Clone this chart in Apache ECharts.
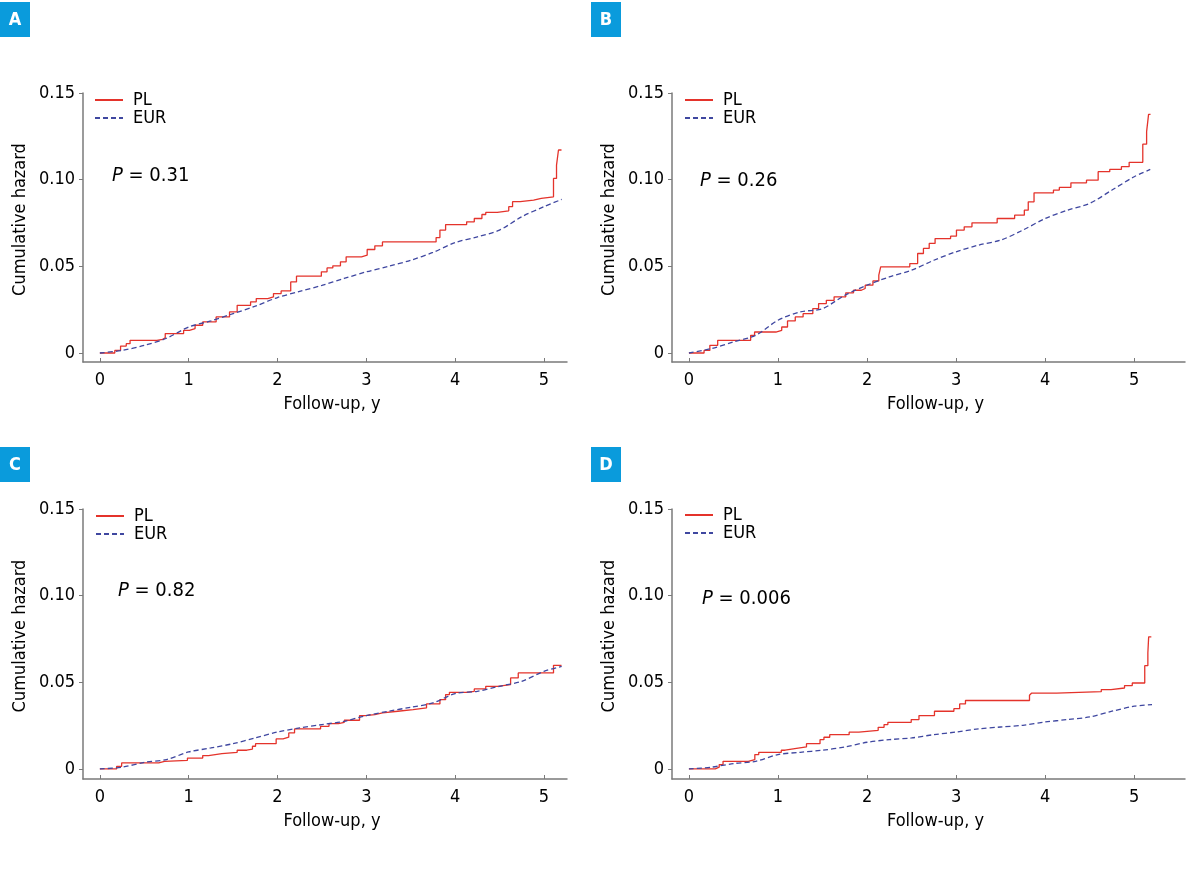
<!DOCTYPE html>
<html>
<head>
<meta charset="utf-8">
<script src="https://cdn.jsdelivr.net/npm/echarts@6/dist/echarts.min.js"></script>
<style>
  html, body { margin: 0; padding: 0; background: #fff; }
  #chart { width: 1198px; height: 890px; }
</style>
</head>
<body>
<div id="chart"></div>
<script>
// 刻度与标签
const xTicks = [0, 1, 2, 3, 4, 5];
const yTicks = [0, 0.05, 0.10, 0.15];
const panelLetters = ['A', 'B', 'C', 'D'];
const pValues = ['0.31', '0.26', '0.82', '0.006'];
const seriesNames = ['PL', 'EUR'];

// A: PL 阶梯数据 [时间, 累积风险]
const plA = [[0,0],[0.168,0.0015],[0.233,0.004],[0.297,0.0054],[0.340,0.0073],[0.642,0.0079],[0.706,0.0087],[0.736,0.0112],[0.943,0.0131],[1.008,0.0141],[1.072,0.016],[1.158,0.0179],[1.309,0.0208],[1.460,0.0237],[1.546,0.0275],[1.697,0.0295],[1.761,0.0314],[1.891,0.0324],[1.955,0.0343],[2.041,0.0358],[2.149,0.041],[2.214,0.0443],[2.494,0.0468],[2.558,0.0491],[2.623,0.0503],[2.709,0.0526],[2.773,0.0555],[2.946,0.0564],[3.010,0.0597],[3.096,0.0618],[3.182,0.0641],[3.786,0.0666],[3.829,0.0709],[3.893,0.0741],[4.130,0.0757],[4.216,0.0776],[4.302,0.0799],[4.345,0.0811],[4.475,0.082],[4.604,0.0844],[4.647,0.0873],[4.733,0.0882],[4.884,0.0892],[4.970,0.0901],[5.108,0.1007],[5.142,0.1084],[5.164,0.1171],[5.198,0.1171]];
const eurA = [[0,0],[0.25,0.0015],[0.5,0.0044],[0.75,0.0085],[1.0,0.015],[1.25,0.0185],[1.5,0.0227],[1.75,0.027],[2.0,0.032],[2.25,0.0355],[2.5,0.039],[2.75,0.043],[3.0,0.0468],[3.25,0.050],[3.5,0.0535],[3.75,0.058],[4.0,0.0637],[4.25,0.067],[4.5,0.0709],[4.75,0.0786],[5.0,0.0844],[5.2,0.0886]];

// B
const plB = [[0,0],[0.170,0.0015],[0.235,0.0044],[0.323,0.0073],[0.693,0.0102],[0.737,0.0121],[0.976,0.0131],[1.042,0.015],[1.107,0.0185],[1.194,0.0208],[1.282,0.0227],[1.391,0.0256],[1.456,0.0285],[1.543,0.0304],[1.630,0.0324],[1.761,0.0347],[1.848,0.0362],[1.936,0.0372],[1.979,0.0391],[2.066,0.0416],[2.132,0.0449],[2.153,0.0497],[2.480,0.0516],[2.568,0.0574],[2.633,0.0603],[2.698,0.0632],[2.764,0.066],[2.938,0.0674],[3.004,0.0709],[3.091,0.0728],[3.178,0.0751],[3.461,0.0776],[3.657,0.0795],[3.766,0.0824],[3.810,0.0872],[3.875,0.0924],[4.093,0.094],[4.159,0.0955],[4.289,0.0982],[4.464,0.0997],[4.595,0.1046],[4.725,0.1059],[4.856,0.1075],[4.943,0.11],[5.096,0.1205],[5.139,0.1277],[5.161,0.1377],[5.183,0.1377]];
const eurB = [[0,0],[0.25,0.0025],[0.5,0.0064],[0.75,0.0102],[1.0,0.0189],[1.25,0.0237],[1.5,0.0256],[1.75,0.0333],[2.0,0.0391],[2.25,0.0439],[2.5,0.0478],[2.75,0.0535],[3.0,0.0584],[3.25,0.0622],[3.5,0.0651],[3.75,0.0709],[4.0,0.0776],[4.25,0.0824],[4.5,0.0863],[4.75,0.094],[5.0,0.1017],[5.18,0.1059]];

// C
const plC = [[0,0],[0.189,0.0015],[0.245,0.0035],[0.663,0.0044],[0.728,0.005],[0.986,0.0063],[1.158,0.0077],[1.223,0.0088],[1.374,0.0096],[1.546,0.0108],[1.654,0.0115],[1.718,0.0131],[1.753,0.0146],[1.985,0.0173],[2.063,0.0183],[2.127,0.0208],[2.192,0.0231],[2.485,0.0246],[2.580,0.0262],[2.687,0.0269],[2.752,0.0281],[2.924,0.0308],[2.989,0.0313],[3.096,0.0323],[3.183,0.0333],[3.355,0.0342],[3.527,0.0352],[3.678,0.0375],[3.829,0.04],[3.893,0.0429],[3.936,0.0442],[4.130,0.0448],[4.216,0.0462],[4.345,0.0477],[4.475,0.0487],[4.625,0.0525],[4.711,0.0554],[5.108,0.0598],[5.198,0.0598]];
const eurC = [[0,0],[0.25,0.001],[0.5,0.0038],[0.75,0.0054],[1.0,0.0098],[1.25,0.0121],[1.5,0.0146],[1.75,0.0179],[2.0,0.0213],[2.25,0.0237],[2.5,0.0256],[2.75,0.0275],[3.0,0.0308],[3.25,0.0333],[3.5,0.0356],[3.75,0.0381],[4.0,0.0435],[4.25,0.0448],[4.5,0.0477],[4.75,0.0506],[5.0,0.0563],[5.2,0.0592]];

// D
const plD = [[0,0],[0.296,0.001],[0.340,0.0025],[0.383,0.0044],[0.666,0.0054],[0.740,0.0083],[0.784,0.0096],[1.037,0.0108],[1.080,0.0117],[1.189,0.0127],[1.320,0.0146],[1.472,0.0169],[1.516,0.0183],[1.581,0.0198],[1.799,0.0212],[1.908,0.0223],[2.125,0.024],[2.191,0.0256],[2.234,0.0269],[2.496,0.0285],[2.583,0.0308],[2.757,0.0333],[2.975,0.0348],[3.040,0.0375],[3.105,0.0395],[3.824,0.0425],[3.846,0.0437],[4.129,0.0446],[4.630,0.0458],[4.739,0.0467],[4.891,0.0481],[4.978,0.0496],[5.118,0.0596],[5.153,0.0669],[5.162,0.0762],[5.192,0.0762]];
const eurD = [[0,0],[0.25,0.001],[0.5,0.0031],[0.75,0.0044],[1.0,0.0083],[1.25,0.0096],[1.5,0.0108],[1.75,0.0127],[2.0,0.0154],[2.25,0.0169],[2.5,0.0179],[2.75,0.0198],[3.0,0.0213],[3.25,0.0231],[3.5,0.0242],[3.75,0.0252],[4.0,0.0271],[4.25,0.0285],[4.5,0.03],[4.75,0.0333],[5.0,0.0362],[5.2,0.0371]];

const plData = [plA, plB, plC, plD];
const eurData = [eurA, eurB, eurC, eurD];

const FONT = '"Liberation Sans Narrow", "DejaVu Sans Condensed", "Liberation Sans", sans-serif';
const RED = '#e4332b';
const BLUE = '#3f47a0';
const AXIS = '#7a7a7a';

// 各子图位置
const layout = [
    { grid: { left: 83, top: 93, width: 484, height: 269 }, xMax: 5.26, yMin: -0.0052, legend: [94, 91], p: [112, 178], box: [0, 2] },
    { grid: { left: 672, top: 93, width: 513, height: 269 }, xMax: 5.57, yMin: -0.0052, legend: [684, 91], p: [700, 183], box: [591, 2] },
    { grid: { left: 83, top: 509, width: 484, height: 270 }, xMax: 5.26, yMin: -0.0058, legend: [95, 507], p: [118, 593], box: [0, 447] },
    { grid: { left: 672, top: 509, width: 513, height: 270 }, xMax: 5.57, yMin: -0.0058, legend: [684, 506], p: [702, 601], box: [591, 447] }
];

const option = {
    animation: false,
    textStyle: { fontFamily: FONT },
    grid: [], xAxis: [], yAxis: [], series: [], legend: [], graphic: []
};

layout.forEach((l, i) => {
    option.grid.push(l.grid);
    option.xAxis.push({
        type: 'value', gridIndex: i, min: -0.19, max: l.xMax,
        name: 'Follow-up, y', nameLocation: 'middle', nameGap: 33,
        nameTextStyle: { fontSize: 18, color: '#000', fontFamily: FONT, padding: [0, 0, 0, 14] },
        axisLine: { onZero: false, lineStyle: { color: AXIS, width: 1.5 } },
        axisTick: { show: true, inside: true, length: 4, customValues: xTicks, lineStyle: { color: AXIS } },
        axisLabel: { customValues: xTicks, fontSize: 18, color: '#000', margin: 9, fontFamily: FONT },
        splitLine: { show: false }
    });
    option.yAxis.push({
        type: 'value', gridIndex: i, min: l.yMin, max: 0.15,
        name: 'Cumulative hazard', nameLocation: 'middle', nameGap: 54,
        nameTextStyle: { fontSize: 18, color: '#000', fontFamily: FONT, padding: [0, 0, 0, 16] },
        axisLine: { show: true, onZero: false, lineStyle: { color: AXIS, width: 1.5 } },
        axisTick: { show: true, length: 4, customValues: yTicks, lineStyle: { color: AXIS } },
        axisLabel: {
            customValues: yTicks, fontSize: 18, color: '#000', margin: 8, fontFamily: FONT,
            formatter: v => v === 0 ? '0' : v.toFixed(2)
        },
        splitLine: { show: false }
    });
    option.series.push({
        name: seriesNames[0], type: 'line', xAxisIndex: i, yAxisIndex: i,
        data: plData[i], step: 'end', symbol: 'none',
        lineStyle: { color: RED, width: 1.3 }, itemStyle: { color: RED }
    });
    option.series.push({
        name: seriesNames[1], type: 'line', xAxisIndex: i, yAxisIndex: i,
        data: eurData[i], symbol: 'none', smooth: 0.3,
        lineStyle: { color: BLUE, width: 1.3, type: [5, 3] }, itemStyle: { color: BLUE }
    });
    option.legend.push({
        left: l.legend[0], top: l.legend[1], orient: 'vertical', padding: 0,
        data: seriesNames, itemWidth: 28, itemHeight: 10, itemGap: 0,
        selectedMode: false,
        itemStyle: { opacity: 0 },
        textStyle: { fontSize: 18, color: '#000', fontFamily: FONT, padding: [0, 0, 0, 5] }
    });
    // P 值
    option.graphic.push({
        type: 'text', left: l.p[0], top: l.p[1] - 12,
        style: {
            text: '{i|P} = ' + pValues[i],
            fontSize: 20, fontFamily: FONT, fill: '#000',
            rich: { i: { fontStyle: 'italic', fontSize: 20, fontFamily: FONT } }
        }
    });
    // 子图字母
    option.graphic.push({
        type: 'group', left: l.box[0], top: l.box[1],
        children: [
            { type: 'rect', shape: { x: 0, y: 0, width: 30, height: 35 }, style: { fill: '#0a9bdc' } },
            { type: 'text', x: 15, y: 18, style: { text: panelLetters[i], fill: '#fff', fontSize: 18, fontWeight: 'bold', fontFamily: FONT, align: 'center', verticalAlign: 'middle' } }
        ]
    });
});

const chart = echarts.init(document.getElementById('chart'));
chart.setOption(option);
window.addEventListener('resize', () => chart.resize());
</script>
</body>
</html>
